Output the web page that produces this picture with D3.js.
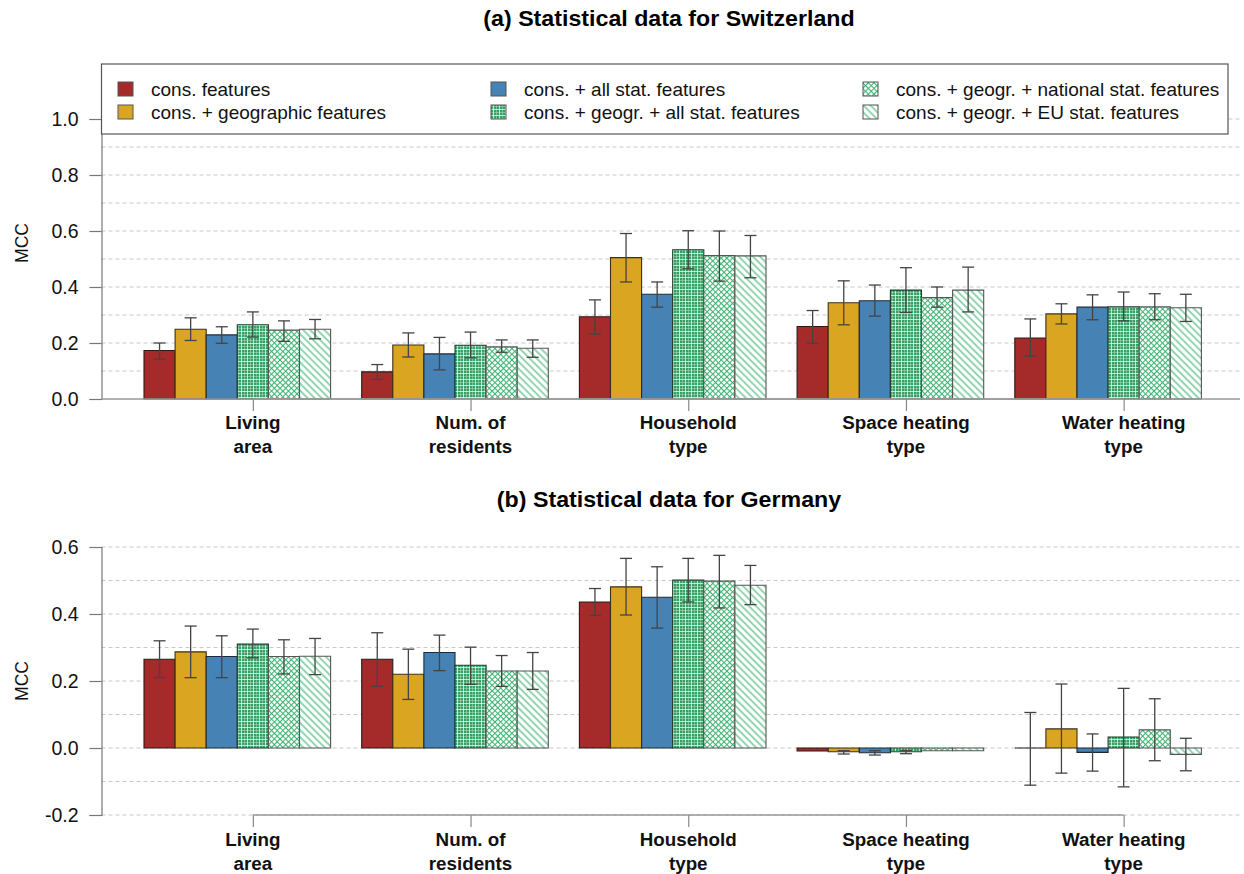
<!DOCTYPE html>
<html>
<head>
<meta charset="utf-8">
<script src="https://cdn.jsdelivr.net/npm/d3@7"></script>
<style>
  html, body { margin: 0; padding: 0; background: #fff; }
  svg { display: block; font-family: "Liberation Sans", Arial, sans-serif; }
</style>
</head>
<body>
<svg id="chart" width="1244" height="874"></svg>
<script>
// ---- data -------------------------------------------------------------
const categories = ["Living area", "Num. of residents", "Household type", "Space heating type", "Water heating type"];
const categoryLines = [["Living", "area"], ["Num. of", "residents"], ["Household", "type"], ["Space heating", "type"], ["Water heating", "type"]];
const seriesNames = [
  "cons. features",
  "cons. + geographic features",
  "cons. + all stat. features",
  "cons. + geogr. + all stat. features",
  "cons. + geogr. + national stat. features",
  "cons. + geogr. + EU stat. features"
];

// (a) Switzerland: mean MCC per category (rows) and feature set (columns)
const chMean = [
  [0.173, 0.249, 0.229, 0.265, 0.246, 0.249],
  [0.097, 0.193, 0.161, 0.192, 0.186, 0.181],
  [0.294, 0.505, 0.374, 0.533, 0.512, 0.511],
  [0.259, 0.344, 0.351, 0.389, 0.362, 0.389],
  [0.218, 0.304, 0.328, 0.329, 0.329, 0.326]
];
const chLow = [
  [0.142, 0.209, 0.199, 0.221, 0.206, 0.215],
  [0.070, 0.150, 0.104, 0.147, 0.167, 0.149],
  [0.232, 0.418, 0.328, 0.465, 0.421, 0.433],
  [0.199, 0.265, 0.296, 0.309, 0.328, 0.311],
  [0.153, 0.268, 0.283, 0.279, 0.283, 0.277]
];
const chHigh = [
  [0.200, 0.290, 0.258, 0.311, 0.279, 0.284],
  [0.123, 0.236, 0.220, 0.239, 0.211, 0.211],
  [0.354, 0.591, 0.418, 0.601, 0.600, 0.584],
  [0.316, 0.422, 0.407, 0.469, 0.400, 0.471],
  [0.286, 0.340, 0.372, 0.382, 0.376, 0.374]
];

// (b) Germany
const deMean = [
  [0.265, 0.287, 0.273, 0.310, 0.273, 0.274],
  [0.265, 0.220, 0.285, 0.247, 0.230, 0.230],
  [0.436, 0.481, 0.450, 0.501, 0.498, 0.486],
  [-0.009, -0.011, -0.014, -0.011, -0.008, -0.008],
  [0.000, 0.057, -0.013, 0.033, 0.054, -0.019]
];
const deLow = [
  [0.210, 0.210, 0.210, 0.269, 0.221, 0.219],
  [0.184, 0.145, 0.231, 0.190, 0.184, 0.175],
  [0.396, 0.397, 0.358, 0.436, 0.418, 0.428],
  [null, -0.018, -0.021, -0.017, null, null],
  [-0.111, -0.075, -0.069, -0.116, -0.038, -0.068]
];
const deHigh = [
  [0.320, 0.364, 0.335, 0.355, 0.323, 0.327],
  [0.344, 0.295, 0.337, 0.301, 0.276, 0.285],
  [0.476, 0.566, 0.541, 0.566, 0.575, 0.545],
  [null, -0.008, -0.008, -0.008, null, null],
  [0.106, 0.191, 0.042, 0.178, 0.147, 0.029]
];

const chTicks = [0, 0.2, 0.4, 0.6, 0.8, 1.0];
const chGrid = [0.1, 0.2, 0.3, 0.4, 0.5, 0.6, 0.7, 0.8, 0.9, 1.0];
const deTicks = [-0.2, 0, 0.2, 0.4, 0.6];
const deGrid = [-0.2, -0.1, 0, 0.1, 0.2, 0.3, 0.4, 0.5, 0.6];

// ---- styling -----------------------------------------------------------
const svg = d3.select("#chart");
const defs = svg.append("defs");

// fills for the six feature sets
function makePatterns() {
  // plaid green
  const p1 = defs.append("pattern").attr("id", "pPlaid")
    .attr("patternUnits", "userSpaceOnUse").attr("width", 6).attr("height", 6);
  p1.append("rect").attr("width", 6).attr("height", 6).attr("fill", "#34a263");
  p1.append("rect").attr("x", 1).attr("width", 1).attr("height", 6).attr("fill", "#ffffff").attr("opacity", 0.7);
  p1.append("rect").attr("y", 1).attr("width", 6).attr("height", 1).attr("fill", "#ffffff").attr("opacity", 0.7);
  p1.append("rect").attr("x", 4).attr("width", 1).attr("height", 6).attr("fill", "#ffffff").attr("opacity", 0.3);
  p1.append("rect").attr("y", 4).attr("width", 6).attr("height", 1).attr("fill", "#ffffff").attr("opacity", 0.3);

  // fine cross-hatch
  const p2 = defs.append("pattern").attr("id", "pCross")
    .attr("patternUnits", "userSpaceOnUse").attr("width", 4).attr("height", 4)
    .attr("patternTransform", "rotate(45)");
  p2.append("rect").attr("width", 4).attr("height", 4).attr("fill", "#ffffff");
  p2.append("line").attr("x1", 0.5).attr("x2", 0.5).attr("y1", 0).attr("y2", 4)
    .attr("stroke", "#3cb371").attr("stroke-width", 1.1);
  p2.append("line").attr("x1", 0).attr("x2", 4).attr("y1", 0.5).attr("y2", 0.5)
    .attr("stroke", "#3cb371").attr("stroke-width", 1.1);

  // diagonal lines
  const p3 = defs.append("pattern").attr("id", "pDiag")
    .attr("patternUnits", "userSpaceOnUse").attr("width", 5).attr("height", 5)
    .attr("patternTransform", "rotate(-45)");
  p3.append("rect").attr("width", 5).attr("height", 5).attr("fill", "#ffffff");
  p3.append("line").attr("x1", 1).attr("x2", 1).attr("y1", 0).attr("y2", 5)
    .attr("stroke", "#3cb371").attr("stroke-width", 1.1);
}
makePatterns();

const fills = ["#a52a2a", "#daa520", "#4682b4", "url(#pPlaid)", "url(#pCross)", "url(#pDiag)"];
const borders = ["#2a1a1a", "#3a3018", "#1f2a36", "#1d3d2a", "#555555", "#555555"];

// ---- layout ------------------------------------------------------------
const axisX = 101.5;
const plotRight = 1240;

const x = d3.scaleBand().domain(categories).range([144, 1201.4]).paddingInner(1 / 7).paddingOuter(0);
const xi = d3.scaleBand().domain(d3.range(seriesNames.length)).range([0, x.bandwidth()]).padding(0);
const tickX = c => x(c) + xi(3) + xi.bandwidth() / 2;

function drawPanel(opts) {
  const { y, mean, low, high, ticks, grid, title, titleY, labelY, axisAtZero } = opts;
  const g = svg.append("g");
  const [ymin, ymax] = y.domain();

  // title
  g.append("text").attr("x", 669).attr("y", titleY)
    .attr("text-anchor", "middle").attr("font-weight", "bold").attr("font-size", 21.5)
    .attr("transform", `translate(669,0) scale(1.08,1) translate(-669,0)`)
    .text(title);

  // dashed grid
  g.selectAll("line.grid").data(grid).join("line")
    .attr("x1", axisX).attr("x2", plotRight)
    .attr("y1", d => y(d)).attr("y2", d => y(d))
    .attr("stroke", "#c8c8c8").attr("stroke-width", 1).attr("stroke-dasharray", "4,3");

  // bars
  categories.forEach((c, ci) => {
    seriesNames.forEach((s, si) => {
      const v = mean[ci][si];
      const x0 = x(c) + xi(si), w = xi.bandwidth();
      const y0 = y(0), y1 = y(v);
      g.append("path")
        .attr("d", `M${x0},${y0}H${x0 + w}V${y1}H${x0}Z`)
        .attr("fill", fills[si]).attr("stroke", borders[si]).attr("stroke-width", 1.1);
    });
  });

  // error bars
  categories.forEach((c, ci) => {
    seriesNames.forEach((s, si) => {
      const lo = low[ci][si], hi = high[ci][si];
      if (lo === null || hi === null) return;
      const cx = x(c) + xi(si) + xi.bandwidth() / 2;
      const eg = g.append("g").attr("stroke", "#444").attr("stroke-width", 1.3).attr("fill", "none");
      eg.append("line").attr("x1", cx).attr("x2", cx).attr("y1", y(lo)).attr("y2", y(hi));
      eg.append("line").attr("x1", cx - 6).attr("x2", cx + 6).attr("y1", y(lo)).attr("y2", y(lo));
      eg.append("line").attr("x1", cx - 6).attr("x2", cx + 6).attr("y1", y(hi)).attr("y2", y(hi));
    });
  });

  // y axis
  const yAxis = d3.axisLeft(y).tickValues(ticks).tickSize(12).tickPadding(11)
    .tickFormat(d3.format(".1f"));
  const ya = g.append("g").attr("transform", `translate(${axisX},0)`).call(yAxis);
  ya.select(".domain").attr("stroke", "#777").attr("stroke-width", 1.2);
  ya.selectAll(".tick line").attr("stroke", "#777").attr("stroke-width", 1.2);
  ya.selectAll(".tick text").attr("font-size", 19.5).attr("fill", "#111")
    .attr("font-family", "'Liberation Sans', Arial, sans-serif")
    .text(d => d3.format(".1f")(d).replace("−", "-"));

  // x axis
  const baseY = axisAtZero ? y(0) : y(ymin);
  if (axisAtZero) {
    g.append("line").attr("x1", axisX).attr("x2", plotRight).attr("y1", baseY).attr("y2", baseY)
      .attr("stroke", "#999").attr("stroke-width", 1.3);
  }
  const xAxis = d3.axisBottom(d3.scaleOrdinal().domain(categories).range(categories.map(tickX)))
    .tickSize(12).tickFormat("");
  const xa = g.append("g").attr("transform", `translate(0,${baseY})`).call(xAxis);
  xa.select(".domain").attr("stroke", "#999").attr("stroke-width", 1.3)
    .attr("d", `M${tickX(categories[0])},0H${tickX(categories[categories.length - 1])}`);
  xa.selectAll(".tick line").attr("stroke", "#888").attr("stroke-width", 1.2);

  // category labels
  categories.forEach((c, ci) => {
    const t = g.append("text").attr("text-anchor", "middle").attr("font-weight", "bold")
      .attr("font-size", 18.8).attr("fill", "#111");
    categoryLines[ci].forEach((line, li) => {
      t.append("tspan").attr("x", tickX(c)).attr("y", labelY + li * 23.5).text(line);
    });
  });

  // y label
  const yMid = opts.yLabelMid;
  g.append("text").attr("transform", `translate(28,${yMid}) rotate(-90)`)
    .attr("text-anchor", "middle").attr("font-size", 17.5).attr("fill", "#111").text("MCC");
}

const yCH = d3.scaleLinear().domain([0, 1]).range([399, 119]);
const yDE = d3.scaleLinear().domain([-0.2, 0.6]).range([815, 547]);

drawPanel({ y: yCH, mean: chMean, low: chLow, high: chHigh, ticks: chTicks, grid: chGrid,
  title: "(a) Statistical data for Switzerland", titleY: 26, labelY: 429, axisAtZero: true, yLabelMid: 243 });
drawPanel({ y: yDE, mean: deMean, low: deLow, high: deHigh, ticks: deTicks, grid: deGrid,
  title: "(b) Statistical data for Germany", titleY: 507, labelY: 846, axisAtZero: false, yLabelMid: 681 });

// ---- legend ------------------------------------------------------------
const legend = svg.append("g");
legend.append("rect").attr("x", axisX).attr("y", 64).attr("width", 1228 - axisX).attr("height", 70)
  .attr("fill", "#fff").attr("stroke", "#555").attr("stroke-width", 1.2);
const colX = [118, 491, 863];
const rowY = [89, 112];
seriesNames.forEach((s, i) => {
  const cx = colX[Math.floor(i / 2)], cy = rowY[i % 2];
  legend.append("rect").attr("x", cx).attr("y", cy - 7).attr("width", 15).attr("height", 14)
    .attr("fill", fills[i]).attr("stroke", "#555").attr("stroke-width", 1);
  legend.append("text").attr("x", cx + 33).attr("y", cy).attr("dy", "0.35em")
    .attr("font-size", 19).attr("fill", "#111").text(s);
});
</script>
</body>
</html>
